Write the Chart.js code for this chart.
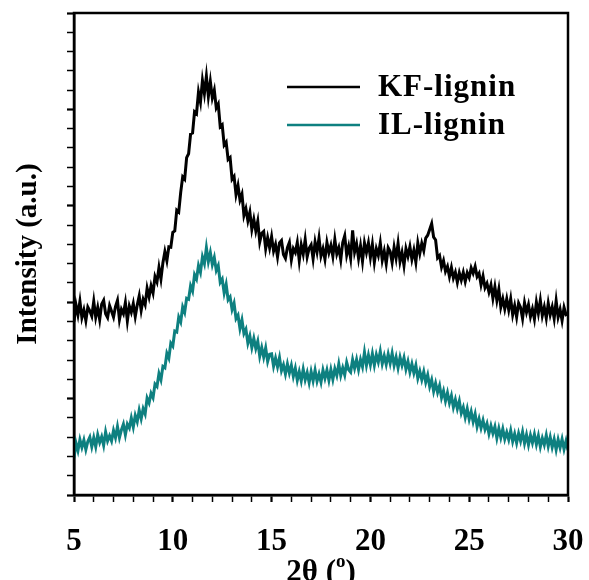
<!DOCTYPE html>
<html>
<head>
<meta charset="utf-8">
<script src="https://cdn.jsdelivr.net/npm/chart.js@4"></script>
<style>
  html, body { margin: 0; padding: 0; background: #fff; }
  #wrap { width: 589px; height: 580px; }
</style>
</head>
<body>
<div id="wrap"><canvas id="xrd" width="589" height="580"></canvas></div>
<script>
// ---------- data ----------
const twoTheta = [
  5.0,5.1,5.2,5.3,5.4,5.5,5.6,5.7,5.8,5.9,
  6.0,6.1,6.2,6.3,6.4,6.5,6.6,6.7,6.8,6.9,
  7.0,7.1,7.2,7.3,7.4,7.5,7.6,7.7,7.8,7.9,
  8.0,8.1,8.2,8.3,8.4,8.5,8.6,8.7,8.8,8.9,
  9.0,9.1,9.2,9.3,9.4,9.5,9.6,9.7,9.8,9.9,
  10.0,10.1,10.2,10.3,10.4,10.5,10.6,10.7,10.8,10.9,
  11.0,11.1,11.2,11.3,11.4,11.5,11.6,11.7,11.8,11.9,
  12.0,12.1,12.2,12.3,12.4,12.5,12.6,12.7,12.8,12.9,
  13.0,13.1,13.2,13.3,13.4,13.5,13.6,13.7,13.8,13.9,
  14.0,14.1,14.2,14.3,14.4,14.5,14.6,14.7,14.8,14.9,
  15.0,15.1,15.2,15.3,15.4,15.5,15.6,15.7,15.8,15.9,
  16.0,16.1,16.2,16.3,16.4,16.5,16.6,16.7,16.8,16.9,
  17.0,17.1,17.2,17.3,17.4,17.5,17.6,17.7,17.8,17.9,
  18.0,18.1,18.2,18.3,18.4,18.5,18.6,18.7,18.8,18.9,
  19.0,19.1,19.2,19.3,19.4,19.5,19.6,19.7,19.8,19.9,
  20.0,20.1,20.2,20.3,20.4,20.5,20.6,20.7,20.8,20.9,
  21.0,21.1,21.2,21.3,21.4,21.5,21.6,21.7,21.8,21.9,
  22.0,22.1,22.2,22.3,22.4,22.5,22.6,22.7,22.8,22.9,
  23.0,23.1,23.2,23.3,23.4,23.5,23.6,23.7,23.8,23.9,
  24.0,24.1,24.2,24.3,24.4,24.5,24.6,24.7,24.8,24.9,
  25.0,25.1,25.2,25.3,25.4,25.5,25.6,25.7,25.8,25.9,
  26.0,26.1,26.2,26.3,26.4,26.5,26.6,26.7,26.8,26.9,
  27.0,27.1,27.2,27.3,27.4,27.5,27.6,27.7,27.8,27.9,
  28.0,28.1,28.2,28.3,28.4,28.5,28.6,28.7,28.8,28.9,
  29.0,29.1,29.2,29.3,29.4,29.5,29.6,29.7,29.8,29.9,
  30.0
];

const kfLignin = [
  36.0,39.5,37.4,40.2,36.8,38.4,36.2,39.0,38.2,37.1,
  40.2,36.9,38.9,36.4,39.6,40.4,37.6,36.8,39.3,38.1,
  36.9,39.1,40.4,36.4,38.5,37.6,39.9,36.1,39.2,37.9,
  39.7,37.0,39.4,41.3,38.3,40.6,39.5,42.9,41.1,43.4,
  41.9,45.3,44.2,47.2,44.8,48.2,50.5,48.6,51.5,51.4,
  54.5,54.8,59.1,58.7,62.8,66.0,65.5,70.0,70.8,74.9,
  75.1,79.5,79.1,83.6,81.5,86.0,83.3,86.9,82.7,85.8,
  82.4,84.0,80.3,81.1,76.4,76.8,72.6,73.2,69.6,70.0,
  65.5,66.1,62.3,64.2,61.2,62.4,58.0,59.4,56.9,58.7,
  55.1,57.2,54.8,56.8,52.5,54.3,54.7,51.1,53.4,51.3,
  53.6,50.6,52.0,49.4,52.3,52.8,49.9,49.1,51.3,52.4,
  48.8,51.1,50.3,52.4,48.6,51.9,50.0,53.0,49.4,51.2,
  51.9,49.0,52.5,50.4,53.3,49.6,51.1,48.9,52.4,50.3,
  51.8,49.5,53.0,50.0,51.3,48.8,52.4,53.8,49.8,51.6,
  49.1,54.9,50.4,52.1,49.1,51.7,48.5,52.3,50.3,52.3,
  49.3,52.0,48.3,51.1,49.7,52.3,48.7,50.6,48.0,51.3,
  50.5,48.2,51.4,49.1,52.2,48.4,50.3,47.6,51.1,49.5,
  51.5,48.9,50.8,48.3,52.3,50.1,52.2,50.7,53.3,53.9,
  55.1,56.3,53.5,52.9,49.2,49.7,47.3,48.6,46.4,47.4,
  45.3,47.2,45.0,46.2,44.1,46.1,44.6,46.2,44.3,46.1,
  45.1,47.1,46.0,47.4,45.3,46.0,43.6,45.4,43.0,43.9,
  42.1,43.6,40.8,43.2,40.4,42.7,39.0,40.7,38.6,40.7,
  38.4,40.7,37.4,39.3,36.9,39.8,38.9,36.6,39.9,37.9,
  39.5,37.0,38.6,36.5,40.0,37.7,40.4,37.2,39.0,36.7,
  39.8,37.4,39.0,36.6,40.3,36.9,38.5,36.2,38.9,37.4,
  37.6
];

const ilLignin = [
  7.6,10.8,9.2,11.5,9.9,11.4,9.4,11.1,12.0,10.0,
  11.9,10.0,12.5,10.9,12.1,10.3,13.1,11.2,12.3,11.2,
  13.4,11.9,14.2,11.9,13.5,14.7,12.5,14.7,13.9,16.0,
  14.1,16.5,15.2,17.6,15.8,17.9,16.8,20.1,19.1,21.1,
  20.2,23.0,22.5,25.2,23.9,26.7,26.4,29.4,28.4,31.5,
  30.9,34.0,33.8,36.9,35.9,39.0,37.9,40.8,40.6,43.4,
  42.3,45.7,44.8,47.6,46.2,49.4,48.0,51.3,48.4,50.3,
  47.8,49.3,46.6,47.6,44.1,44.8,41.9,43.7,40.5,41.1,
  38.5,39.8,36.6,37.3,34.5,36.3,33.5,34.4,31.5,33.0,
  30.6,32.5,30.4,31.9,28.8,30.6,28.6,30.5,27.7,29.2,
  29.3,26.7,28.4,26.6,28.5,25.8,27.0,25.1,27.2,25.3,
  26.9,24.6,26.3,23.8,25.6,23.7,26.1,23.9,25.4,23.3,
  25.6,23.7,25.9,23.6,25.1,23.4,25.9,24.2,25.9,23.8,
  26.0,24.0,26.2,24.8,27.2,24.8,26.4,24.9,27.5,26.0,
  25.5,28.1,26.3,28.1,26.0,28.1,26.6,29.6,26.9,29.0,
  27.0,29.3,26.9,29.1,27.6,29.8,27.2,28.9,27.1,29.2,
  27.3,29.4,26.9,28.6,26.4,28.6,26.9,28.5,26.1,27.7,
  25.5,27.2,25.3,26.9,24.2,25.7,23.9,25.6,23.4,24.9,
  22.5,23.9,21.5,23.2,21.3,22.7,20.2,21.6,19.5,21.2,
  19.1,20.6,18.2,19.8,17.9,19.5,17.0,18.2,16.1,17.9,
  15.7,17.3,15.2,16.8,14.2,15.8,13.9,15.5,13.6,14.8,
  12.7,14.4,12.8,14.2,11.8,13.8,11.9,13.7,11.6,13.0,
  11.5,13.4,11.1,12.7,10.8,12.8,11.2,13.1,10.7,12.5,
  10.4,12.4,10.8,12.6,10.5,12.3,10.0,11.8,10.4,12.4,
  10.1,12.0,9.9,11.6,9.4,11.5,9.8,11.6,9.5,11.2,
  9.3
];

const seriesNames = ["KF-lignin", "IL-lignin"];
const seriesColors = ["#000000", "#0e8080"];
const xTickLabels = [5, 10, 15, 20, 25, 30];

const serif = '"Liberation Serif", "Times New Roman", serif';

// frame (top + right edges of the box)
const framePlugin = {
  id: "frame",
  afterDraw(chart) {
    const { ctx, chartArea: a } = chart;
    ctx.save();
    ctx.strokeStyle = "#000";
    ctx.lineWidth = 2.5;
    ctx.strokeRect(a.left, a.top, a.right - a.left, a.bottom - a.top);
    ctx.restore();
  }
};

// legend in the upper right, line sample + bold label
const legendPlugin = {
  id: "xrdLegend",
  afterDraw(chart) {
    const ctx = chart.ctx;
    ctx.save();
    ctx.font = "bold 31px " + serif;
    ctx.letterSpacing = "1px";
    ctx.textBaseline = "alphabetic";
    chart.data.datasets.forEach((ds, i) => {
      const y = 87 + i * 38;
      ctx.strokeStyle = ds.borderColor;
      ctx.lineWidth = 2.5;
      ctx.beginPath();
      ctx.moveTo(287, y);
      ctx.lineTo(360, y);
      ctx.stroke();
      ctx.fillStyle = "#000";
      ctx.fillText(ds.label, 378, y + 9);
    });
    ctx.letterSpacing = "0px";
    ctx.restore();
  }
};

// x axis title with superscript o
const xTitlePlugin = {
  id: "xTitle",
  afterDraw(chart) {
    const { ctx, chartArea: a } = chart;
    const main1 = "2\u03B8 (", sup = "o", main2 = ")";
    ctx.save();
    ctx.fillStyle = "#000";
    ctx.textBaseline = "alphabetic";
    ctx.font = "bold 31px " + serif;
    const w1 = ctx.measureText(main1).width;
    const w3 = ctx.measureText(main2).width;
    ctx.font = "bold 19px " + serif;
    const w2 = ctx.measureText(sup).width;
    let x = (a.left + a.right) / 2 - (w1 + w2 + w3) / 2;
    const base = 581;
    ctx.font = "bold 31px " + serif;
    ctx.fillText(main1, x, base);
    x += w1;
    ctx.font = "bold 19px " + serif;
    ctx.fillText(sup, x, base - 14);
    x += w2;
    ctx.font = "bold 31px " + serif;
    ctx.fillText(main2, x, base);
    ctx.restore();
  }
};

const datasets = [kfLignin, ilLignin].map((vals, s) => ({
  label: seriesNames[s],
  data: twoTheta.map((t, i) => ({ x: t, y: vals[i] })),
  borderColor: seriesColors[s],
  borderWidth: 3,
  pointRadius: 0,
  tension: 0,
  fill: false
}));

new Chart(document.getElementById("xrd"), {
  type: "line",
  data: { datasets },
  options: {
    responsive: false,
    animation: false,
    devicePixelRatio: 1,
    layout: { padding: { left: 0, right: 21, top: 13, bottom: 0 } },
    plugins: { legend: { display: false }, tooltip: { enabled: false } },
    scales: {
      x: {
        type: "linear",
        min: 5, max: 30,
        border: { display: true, color: "#000", width: 2.5 },
        grid: {
          drawOnChartArea: false, drawTicks: true, tickLength: 7,
          tickColor: "#000",
          tickWidth: (c) => (xTickLabels.includes(c.tick.value) ? 2.2 : 1.5)
        },
        ticks: {
          stepSize: 1, autoSkip: false, maxRotation: 0, padding: 21,
          color: "#000",
          font: { family: serif, size: 31, weight: "bold" },
          callback: (v) => (xTickLabels.includes(v) ? String(v) : "")
        },
        afterFit: (scale) => {
          scale.height = 85;
          scale.paddingLeft = 0;
          scale.paddingRight = 0;
        }
      },
      y: {
        min: 0, max: 100,
        border: { display: true, color: "#000", width: 2.5 },
        grid: {
          drawOnChartArea: false, drawTicks: true, tickLength: 7,
          tickColor: "#000",
          tickWidth: (c) => (c.tick.value % 20 === 0 ? 2.2 : 1.5)
        },
        ticks: { stepSize: 4, autoSkip: false, callback: () => "" },
        title: {
          display: true,
          text: "Intensity (a.u.)",
          color: "#000",
          font: { family: serif, size: 29, weight: "bold", lineHeight: 1 },
          padding: { top: 14, bottom: 0 }
        },
        afterFit: (scale) => { scale.width = 74; }
      }
    }
  },
  plugins: [framePlugin, legendPlugin, xTitlePlugin]
});
</script>
</body>
</html>
